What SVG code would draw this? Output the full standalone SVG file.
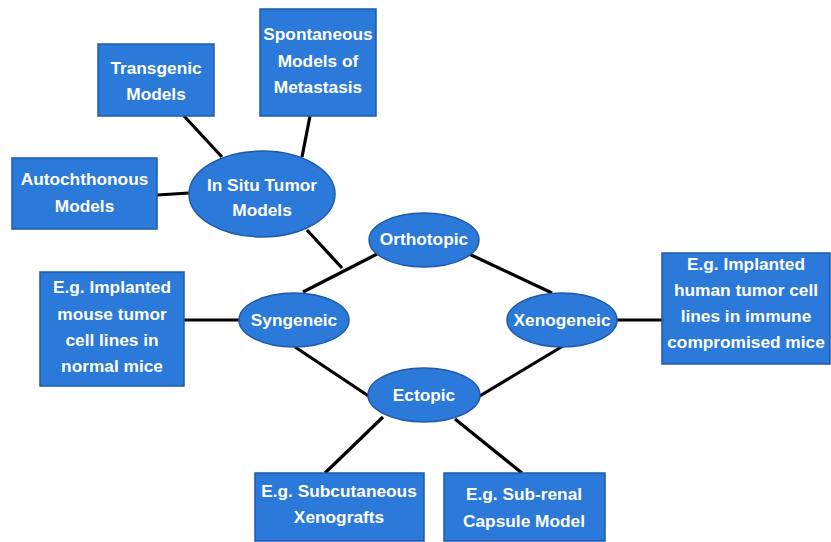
<svg xmlns="http://www.w3.org/2000/svg" width="831" height="542" viewBox="0 0 831 542">
<style>
.box{fill:#2b79d9;stroke:#1f5aa8;stroke-width:1.5}
.t{fill:#ffffff;font-family:"Liberation Sans",Arial,sans-serif;font-weight:bold;font-size:17.3px;text-anchor:middle}
.c line{stroke:#000000;stroke-width:3.2}
</style>
<rect width="831" height="542" fill="#ffffff"/>
<g class="c" id="connectors">
<line x1="184" y1="116" x2="222" y2="157"/>
<line x1="310" y1="116" x2="302" y2="157"/>
<line x1="157" y1="195" x2="189" y2="193"/>
<line x1="307" y1="230" x2="342" y2="268"/>
<line x1="303" y1="292" x2="377" y2="254"/>
<line x1="184" y1="320" x2="239" y2="320"/>
<line x1="295" y1="347" x2="370" y2="397"/>
<line x1="383" y1="417" x2="325" y2="473"/>
<line x1="455" y1="419" x2="522" y2="473"/>
<line x1="478" y1="397" x2="563" y2="346"/>
<line x1="467" y1="253" x2="552" y2="293"/>
<line x1="617" y1="320" x2="662" y2="320"/>
</g>
<g id="transgenic"><rect class="box" x="98" y="44" width="116" height="72"/><text class="t" x="156" y="74">Transgenic</text><text class="t" x="156" y="100">Models</text></g>
<g id="spontaneous"><rect class="box" x="260" y="9" width="116" height="107"/><text class="t" x="318" y="40">Spontaneous</text><text class="t" x="318" y="67">Models of</text><text class="t" x="318" y="93">Metastasis</text></g>
<g id="autochthonous"><rect class="box" x="12" y="158" width="145" height="71"/><text class="t" x="84.5" y="185">Autochthonous</text><text class="t" x="84.5" y="212">Models</text></g>
<g id="insitu"><ellipse class="box" cx="262" cy="194" rx="73" ry="43"/><text class="t" x="262" y="191">In Situ Tumor</text><text class="t" x="262" y="216">Models</text></g>
<g id="orthotopic"><ellipse class="box" cx="424" cy="240" rx="55" ry="27"/><text class="t" x="424" y="245">Orthotopic</text></g>
<g id="syngeneic"><ellipse class="box" cx="294" cy="320" rx="55" ry="27"/><text class="t" x="294" y="326">Syngeneic</text></g>
<g id="xenogeneic"><ellipse class="box" cx="562" cy="320" rx="55" ry="27"/><text class="t" x="562" y="326">Xenogeneic</text></g>
<g id="ectopic"><ellipse class="box" cx="424" cy="395" rx="56" ry="27"/><text class="t" x="424" y="401">Ectopic</text></g>
<g id="mouse"><rect class="box" x="40" y="272" width="144" height="114"/><text class="t" x="112" y="293">E.g. Implanted</text><text class="t" x="112" y="320">mouse tumor</text><text class="t" x="112" y="346">cell lines in</text><text class="t" x="112" y="372">normal mice</text></g>
<g id="human"><rect class="box" x="662" y="253" width="168" height="111"/><text class="t" x="746" y="270">E.g. Implanted</text><text class="t" x="746" y="296">human tumor cell</text><text class="t" x="746" y="322">lines in immune</text><text class="t" x="746" y="348">compromised mice</text></g>
<g id="subcutaneous"><rect class="box" x="255" y="473" width="169" height="68"/><text class="t" x="339" y="497">E.g. Subcutaneous</text><text class="t" x="339" y="523">Xenografts</text></g>
<g id="subrenal"><rect class="box" x="444" y="473" width="161" height="68"/><text class="t" x="524" y="500">E.g. Sub-renal</text><text class="t" x="524" y="527">Capsule Model</text></g>
</svg>
